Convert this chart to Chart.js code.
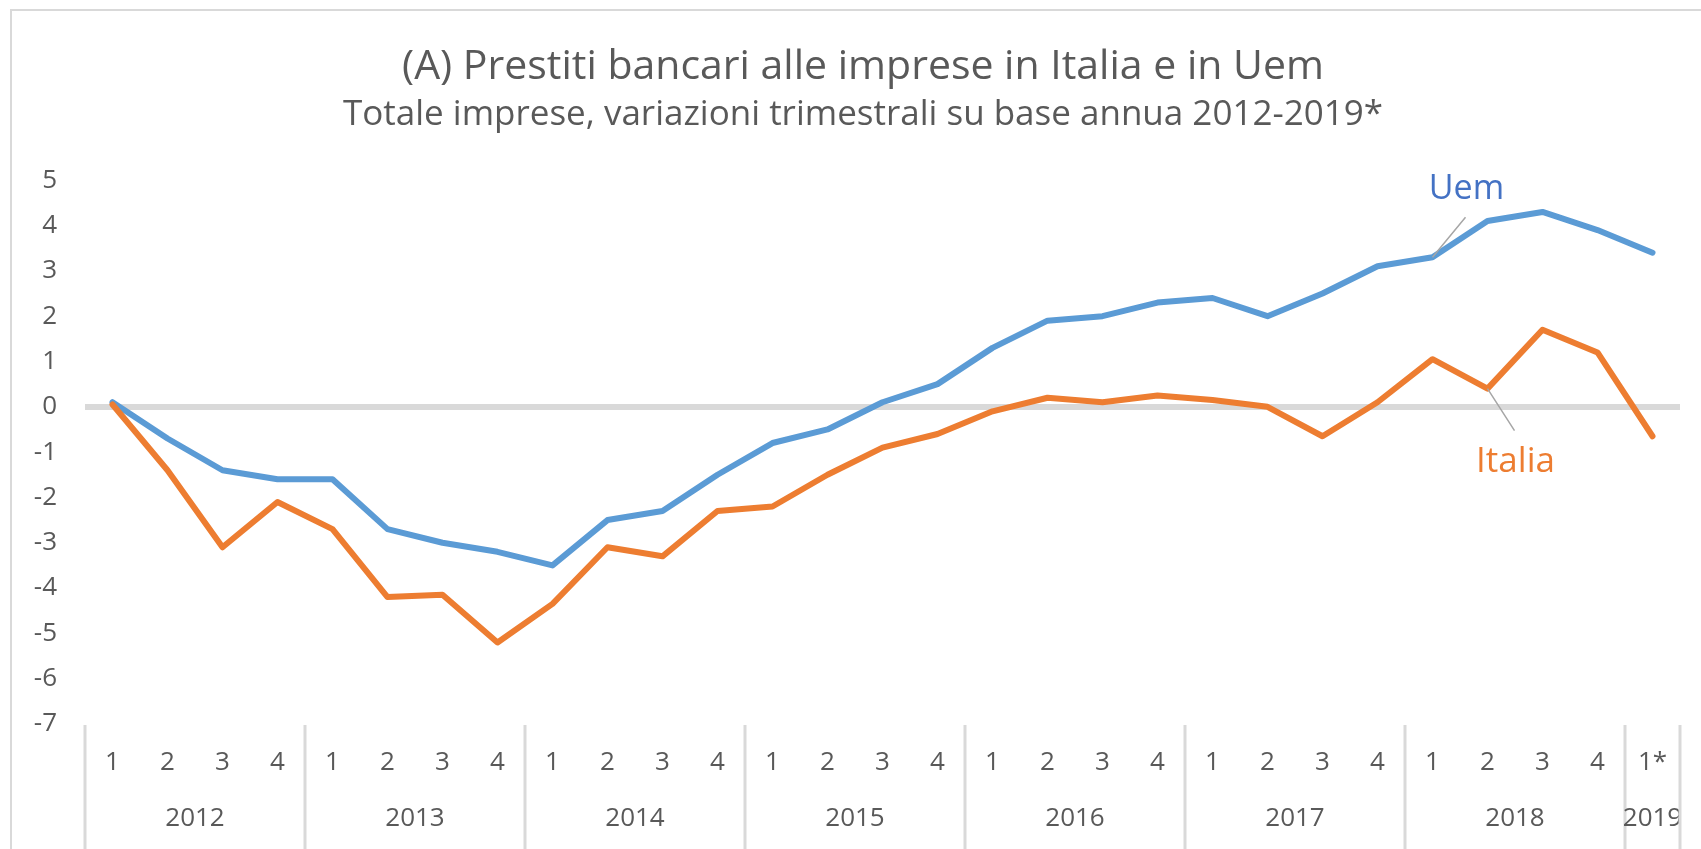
<!DOCTYPE html>
<html lang="it">
<head>
  <meta charset="UTF-8">
  <title>Prestiti bancari alle imprese in Italia e in Uem</title>
  <script src="https://cdn.jsdelivr.net/npm/chart.js@4"></script>
  <style>
    html, body { margin: 0; padding: 0; background: #fff; }
    .wrap { position: relative; width: 1701px; height: 849px; }
    .frame { position: absolute; left: 10px; top: 9px; width: 1720px; height: 900px;
             border-left: 2px solid #d9d9d9; border-top: 2px solid #d9d9d9; pointer-events: none; }
  </style>
</head>
<body>
  <div class="wrap">
    <canvas id="chart" width="1701" height="849"></canvas>
    <div class="frame"></div>
  </div>

  <script>
    var quarters = ['1','2','3','4','1','2','3','4','1','2','3','4','1','2','3','4',
                    '1','2','3','4','1','2','3','4','1','2','3','4','1*'];
    var years = ['2012','2013','2014','2015','2016','2017','2018','2019'];
    var quartersPerYear = [4, 4, 4, 4, 4, 4, 4, 1];

    var uem = [0.1, -0.7, -1.4, -1.6, -1.6, -2.7, -3.0, -3.2, -3.5, -2.5, -2.3, -1.5,
               -0.8, -0.5, 0.1, 0.5, 1.3, 1.9, 2.0, 2.3, 2.4, 2.0, 2.5, 3.1,
               3.3, 4.1, 4.3, 3.9, 3.4];
    var italia = [0.05, -1.4, -3.1, -2.1, -2.7, -4.2, -4.15, -5.2, -4.35, -3.1, -3.3, -2.3,
                  -2.2, -1.5, -0.9, -0.6, -0.1, 0.2, 0.1, 0.25, 0.15, 0.0, -0.65, 0.1,
                  1.05, 0.4, 1.7, 1.2, -0.65];

    var grey = '#595959';
    var fontFamily = '"Open Sans", "Noto Sans", sans-serif';

    // title + subtitle sit a bit right of the canvas centre in the original
    var titleShift = {
      id: 'titleShift',
      afterLayout: function (chart) {
        chart.boxes.forEach(function (b) {
          if (b.options && typeof b.options.text === 'string') {
            b.left += 23;
            b.right += 23;
          }
        });
      }
    };

    // year labels + separators under the quarter ticks, series name labels with leader lines
    var extras = {
      id: 'extras',
      afterDraw: function (chart) {
        var ctx = chart.ctx;
        var x = chart.scales.x, y = chart.scales.y;
        var step = x.getPixelForValue(1) - x.getPixelForValue(0);
        var top = chart.chartArea.bottom + 1;

        ctx.save();
        ctx.strokeStyle = '#d9d9d9';
        ctx.lineWidth = 3;
        ctx.fillStyle = grey;
        ctx.font = '26px ' + fontFamily;
        ctx.textAlign = 'center';
        ctx.textBaseline = 'middle';

        var idx = 0;
        for (var i = 0; i < years.length; i++) {
          var first = idx, last = idx + quartersPerYear[i] - 1;
          var left = x.getPixelForValue(first) - step / 2;
          ctx.beginPath();
          ctx.moveTo(left, top);
          ctx.lineTo(left, chart.height);
          ctx.stroke();
          var mid = (x.getPixelForValue(first) + x.getPixelForValue(last)) / 2;
          ctx.fillText(years[i], mid, 819);
          idx = last + 1;
        }
        var end = x.getPixelForValue(idx - 1) + step / 2;
        ctx.beginPath();
        ctx.moveTo(end, top);
        ctx.lineTo(end, chart.height);
        ctx.stroke();

        // series labels
        var pu = { x: x.getPixelForValue(24), y: y.getPixelForValue(uem[24]) };
        var pi = { x: x.getPixelForValue(25), y: y.getPixelForValue(italia[25]) };

        ctx.strokeStyle = '#a6a6a6';
        ctx.lineWidth = 1.5;
        ctx.beginPath();
        ctx.moveTo(pu.x, pu.y);
        ctx.lineTo(pu.x + 33, pu.y - 40);
        ctx.moveTo(pi.x, pi.y);
        ctx.lineTo(pi.x + 27, pi.y + 42);
        ctx.stroke();

        ctx.font = '34px ' + fontFamily;
        ctx.fillStyle = '#4472c4';
        ctx.fillText('Uem', pu.x + 34, pu.y - 68);
        ctx.fillStyle = '#ed7d31';
        ctx.font = '35px ' + fontFamily;
        ctx.fillText('Italia', pi.x + 28, pi.y + 73);
        ctx.restore();
      }
    };

    var ctx = document.getElementById('chart').getContext('2d');
    var myChart = new Chart(ctx, {
      type: 'line',
      data: {
        labels: quarters,
        datasets: [
          {
            label: 'Italia',
            data: italia,
            borderColor: '#ed7d31',
            backgroundColor: '#ed7d31',
            borderWidth: 6,
            pointRadius: 0,
            borderCapStyle: 'round',
            borderJoinStyle: 'round',
            tension: 0
          },
          {
            label: 'Uem',
            data: uem,
            borderColor: '#5b9bd5',
            backgroundColor: '#5b9bd5',
            borderWidth: 6,
            pointRadius: 0,
            borderCapStyle: 'round',
            borderJoinStyle: 'round',
            tension: 0
          }
        ]
      },
      options: {
        responsive: false,
        animation: false,
        layout: { padding: { top: 0, left: 0, right: 21, bottom: 0 } },
        plugins: {
          legend: { display: false },
          tooltip: { enabled: false },
          title: {
            display: true,
            text: '(A) Prestiti bancari alle imprese in Italia e in Uem',
            color: grey,
            font: { family: fontFamily, size: 41, weight: 'normal', lineHeight: 1.2 },
            padding: { top: 43, bottom: 0 }
          },
          subtitle: {
            display: true,
            text: 'Totale imprese, variazioni trimestrali su base annua 2012-2019*',
            color: grey,
            font: { family: fontFamily, size: 35, weight: 'normal', lineHeight: 1.2 },
            padding: { top: 2, bottom: 44 }
          }
        },
        scales: {
          x: {
            offset: true,
            grid: { display: false, drawTicks: false },
            border: { display: false },
            ticks: {
              color: grey,
              font: { family: fontFamily, size: 26 },
              autoSkip: false,
              maxRotation: 0,
              padding: 23
            },
            afterFit: function (s) { s.height = 125; }
          },
          y: {
            min: -7,
            max: 5,
            border: { display: false },
            grid: {
              drawTicks: false,
              color: function (c) { return c.tick.value === 0 ? '#d9d9d9' : 'rgba(0,0,0,0)'; },
              lineWidth: function (c) { return c.tick.value === 0 ? 6 : 0; }
            },
            ticks: {
              stepSize: 1,
              color: grey,
              font: { family: fontFamily, size: 26 },
              padding: 28
            },
            afterFit: function (s) { s.width = 85; }
          }
        }
      },
      plugins: [titleShift, extras]
    });
  </script>
</body>
</html>
